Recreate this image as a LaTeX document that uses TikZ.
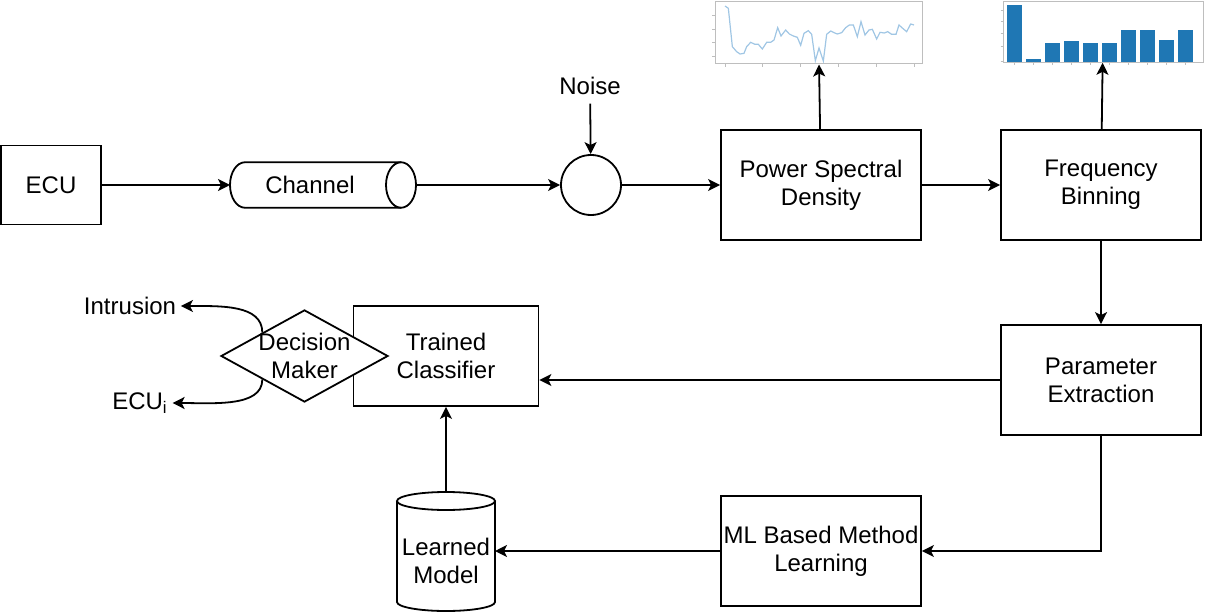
\documentclass[tikz,border=0pt]{standalone}
\usepackage{fontspec}
\setmainfont{Liberation Sans}
\usetikzlibrary{arrows.meta,shapes.geometric,calc}

\definecolor{plotblue}{RGB}{31,119,180}
\definecolor{plotline}{RGB}{160,198,228}
\definecolor{plotgrey}{RGB}{190,190,190}

\begin{document}
\begin{tikzpicture}[x=0.5bp,y=-0.5bp,->,>={Stealth[length=6bp,width=6bp,inset=1.5bp]},line width=0.9bp,font=\fontsize{12bp}{14bp}\selectfont]

            \tikzstyle{every node}=[align=center,inner sep=1bp]
            \tikzstyle{block}=[draw,minimum width=100bp,minimum height=55bp]
            \tikzstyle{pipe}=[outer sep=0pt,minimum width=93bp,minimum height=22.75bp]
            \tikzstyle{store}=[outer sep=0pt,minimum width=49bp,minimum height=50bp]
            \tikzstyle{decision}=[diamond,draw,fill=white,aspect=1.8,inner sep=-0.75bp,minimum width=83.5bp,minimum height=46bp]
            \tikzstyle{plotframe}=[draw=plotgrey,line width=0.5bp]

            \useasboundingbox (0,0) rectangle (1208,614);

            \node[block,minimum width=50bp,minimum height=39.5bp] (ecu) at (51,185) {ECU};
            \node[pipe]   (chan)  at (323,185) {\hspace*{-13bp}Channel};
            \node[circle,draw,minimum size=30bp,inner sep=0pt] (mix) at (591,185) {};
            \node[inner sep=4bp] (noise) at (590,86) {Noise};
            \node[block]  (psd)   at (821,185) {Power Spectral\\Density};
            \node[block]  (bin)   at (1101,185) {Frequency\\Binning};
            \node[block]  (par)   at (1101,380) {Parameter\\Extraction};
            \node[block,minimum width=92.5bp,minimum height=50bp] (clf) at (446,356) {Trained\\Classifier};
            \node[decision] (dec) at (304.5,356) {Decision\\Maker};
            \node[block]  (ml)    at (821,551) {ML Based Method\\Learning};
            \node[store]  (model) at (446,561) {Learned\\Model};
            \node[inner sep=2bp] (intr) at (130,306) {Intrusion};
            \node[inner sep=2bp] (ecui) at (140,403) {ECU\textsubscript{i}};

            % cylinder outlines of the channel and the stored model
            \draw[-] ([xshift=-7.5bp]chan.east) ellipse [x radius=7.5bp,y radius=11.375bp];
            \draw[-] ([xshift=-7.5bp]chan.north east) -- ([xshift=7.5bp]chan.north west)
                arc[start angle=90,end angle=270,x radius=7.5bp,y radius=11.375bp] -- ([xshift=-7.5bp]chan.south east);
            \draw[-] ([yshift=5bp]model.north) ellipse [x radius=24.5bp,y radius=4.5bp];
            \draw[-] ([yshift=5bp]model.north west) -- ([yshift=4.5bp]model.south west)
                arc[start angle=180,end angle=360,x radius=24.5bp,y radius=4.5bp] -- ([yshift=5bp]model.north east);

            % small plots above the two top blocks
            \node[plotframe,minimum width=103.5bp,minimum height=31bp] (psdplot) at (818.5,33) {};
            \node[plotframe,minimum width=100bp,minimum height=30.3bp] (binplot) at (1103,32) {};

            \begin{scope}[-,shift={(700,0)},scale=1/3]
                \foreach \t in {45,88,128,168} \draw[plotgrey,line width=0.3bp] (36,\t) -- (45,\t);
                \foreach \t in {75,188,300,415,528,642} \draw[plotgrey,line width=0.3bp] (\t,193) -- (\t,200);
                \draw[plotline,line width=0.6bp] plot coordinates {(75,18) (85,25) (97,140) (110,155) (120,162) (132,160) (140,140) (152,127) (165,133) (175,133) (187,147) (200,127) (212,127) (222,120) (233,83) (243,108) (257,90) (268,102) (280,108) (292,112) (302,136) (312,100) (325,92) (335,103) (346,182) (357,144) (370,183) (380,103) (392,93) (402,98) (412,102) (425,98) (437,83) (448,75) (460,75) (472,110) (483,65) (495,105) (507,90) (517,88) (530,117) (540,97) (553,99) (563,95) (575,103) (588,103) (597,75) (608,85) (620,95) (632,72) (642,75)};
            \end{scope}

            \begin{scope}[-,shift={(990,0)},scale=1/3]
                \foreach \t in {30,65,100,140,185} \draw[plotgrey,line width=0.3bp] (32,\t) -- (40,\t);
                \foreach \h [count=\i] in {15,178,130,123,130,130,90,90,120,90} {
                    \fill[plotblue] ({50+57.2*(\i-1)},\h) rectangle ++(45,187-\h);
                    \draw[plotgrey,line width=0.3bp] ({72.5+57.2*(\i-1)},188) -- ++(0,6);
                }
            \end{scope}

            \draw (ecu) -- (chan);
            \draw (chan) -- (mix);
            \draw (noise) -- (mix);
            \draw (mix) -- (psd);
            \draw (psd) -- (bin);
            \draw (psd) -- (psdplot);
            \draw (bin) -- (binplot);
            \draw (bin) -- (par);
            \draw (par.west) -- (par.west -| clf.east);
            \draw (par) |- (ml);
            \draw (ml.west) -- (ml.west -| model.east);
            \draw[shorten <=9.5bp] (model) -- (clf);
            \draw ($(dec.west)!0.5!(dec.north)$) .. controls +(0,-28) and +(40,0) .. (intr.east);
            \draw ($(dec.west)!0.5!(dec.south)$) .. controls +(0,28) and +(40,0) .. (ecui.east);
        \end{tikzpicture}
\end{document}
